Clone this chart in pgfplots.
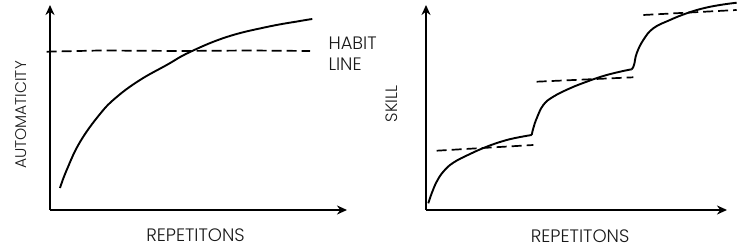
\documentclass[border=0pt]{standalone}
\usepackage{pgfplots}
\pgfplotsset{compat=1.18}
\usetikzlibrary{arrows.meta}
\usepackage{fontspec}
\setmainfont{Poppins Light}
\begin{document}
\begin{tikzpicture}
\path[use as bounding box] (0pt,0pt) rectangle (738pt,248pt);
\pgfplotsset{
  sketch/.style={
    scale only axis, anchor=south west,
    axis lines=left,
    axis line style={line width=2pt, -{Stealth[length=10pt,width=9pt]}},
    xtick=\empty, ytick=\empty,
    clip=false,
    label style={font=\fontsize{18}{21}\selectfont, text=black!90},
  },
  curve/.style={black, line width=1.9pt, smooth, tension=0.7, no marks},
  dash/.style={black, line width=1.7pt, dash pattern=on 10pt off 5pt, no marks},
}
% left panel
\begin{axis}[sketch, at={(50pt,38pt)}, width=297pt, height=205pt,
  xmin=50, xmax=347, ymin=38, ymax=243,
  xlabel={REPETITONS}, ylabel={AUTOMATICITY},
  xlabel style={at={(axis description cs:0.49,-0.122)}, anchor=center},
  ylabel style={at={(axis description cs:-0.098,0.463)}, anchor=center, rotate=0,
    font=\fontsize{15.5}{18}\selectfont},
]
\addplot[curve] coordinates {
 (60,60) (66.7,78) (80,106) (100,134) (116.7,151) (140,168)
 (166.7,183) (190,196) (226.7,211) (266.7,221) (300,227) (312.3,229)};
\addplot[dash] coordinates {(46.7,196.3) (100,197.5) (180,197) (250,197.5) (310,197)};
\node[anchor=west, align=left, font=\fontsize{18}{21}\selectfont, text=black!90]
  at (axis cs:325,194) {HABIT\\LINE};
\end{axis}
% right panel
\begin{axis}[sketch, at={(426pt,38pt)}, width=301pt, height=205pt,
  xmin=426, xmax=727, ymin=38, ymax=243,
  xlabel={REPETITONS}, ylabel={SKILL},
  xlabel style={at={(axis description cs:0.512,-0.127)}, anchor=center},
  ylabel style={at={(axis description cs:-0.113,0.517)}, anchor=center, rotate=0,
    font=\fontsize{16.5}{19}\selectfont},
]
\addplot[curve] coordinates {
 (428.3,44.7) (431.7,54.7) (436.7,66.3) (443.3,76.3) (453.3,85.3) (470,94)
 (486.7,101.3) (503.3,107) (516.7,110.3) (531.7,113)};
\addplot[curve] coordinates {
 (531.7,113) (533.3,119.7) (536.7,129.7) (543.3,143) (553.3,151.3) (570,159.7)
 (586.7,166.3) (603.3,172) (620,176.3) (631.7,178.7)};
\addplot[curve] coordinates {
 (631.7,178.7) (634,183) (636.7,194.7) (643.3,208) (653.3,219.7) (670,228)
 (686.7,234.7) (703.3,239.7) (720,243) (736.7,245.3)};
\addplot[dash] coordinates {(436.7,97.3) (533.3,103)};
\addplot[dash] coordinates {(536.7,166.3) (633.3,170.7)};
\addplot[dash] coordinates {(643.3,233) (736.7,238)};
\end{axis}
\end{tikzpicture}
\end{document}
